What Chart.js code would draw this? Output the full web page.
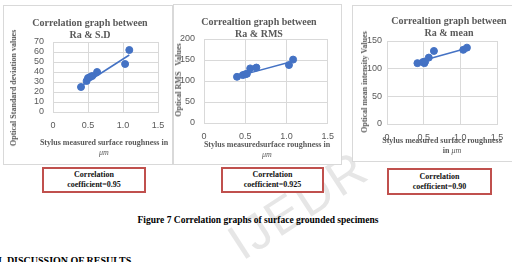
<!DOCTYPE html>
<html><head><meta charset="utf-8">
<script src="https://cdn.jsdelivr.net/npm/chart.js@4/dist/chart.umd.min.js"></script>
<style>
html,body{margin:0;padding:0;background:#fff;width:512px;height:262px;overflow:hidden;position:relative;font-family:"Liberation Serif",serif;}
.box{position:absolute;background:#fff;border:1px solid #d9d9d9;box-sizing:border-box;z-index:1;}
canvas{position:absolute;z-index:2;}
.t{position:absolute;z-index:3;font-weight:bold;color:#595959;white-space:pre;text-align:center;transform:translate(-50%,-50%);}
.title{font-size:10px;line-height:12px;}
.ax{font-size:8px;line-height:10px;}
.yt{transform:translate(-50%,-50%) rotate(-90deg);}
.mu{font-style:italic;font-weight:normal;}
.cc{position:absolute;z-index:3;border:2px solid #c0504d;box-sizing:border-box;background:#fff;display:flex;flex-direction:column;justify-content:center;align-items:center;font-weight:bold;font-size:8px;line-height:10px;color:#111;}
.wm{position:absolute;z-index:0;font-family:"Liberation Sans",sans-serif;font-size:50px;color:#e6e6e6;transform:translate(-50%,-50%) rotate(-33deg);letter-spacing:2px;}
</style></head>
<body>
<div class="wm" style="left:298px;top:205px;">IJEDR</div>

<div class="box" style="left:3px;top:5px;width:170px;height:160px;"></div>
<div class="box" style="left:173px;top:4px;width:169px;height:161px;"></div>
<div class="box" style="left:352px;top:5px;width:162px;height:157px;"></div>

<canvas id="c1" width="170" height="160" style="left:3px;top:5px;"></canvas>
<canvas id="c2" width="169" height="161" style="left:173px;top:4px;"></canvas>
<canvas id="c3" width="162" height="157" style="left:352px;top:5px;"></canvas>

<div class="t title" style="left:90px;top:29px;">Correlation graph between
Ra &amp; S.D</div>
<div class="t title" style="left:259px;top:28px;">Correaltion graph between
Ra &amp; RMS</div>
<div class="t title" style="left:449px;top:27px;">Correaltion graph between
Ra &amp; mean</div>

<div class="t ax yt" style="left:14px;top:88px;">Optical Standard deviation values</div>
<div class="t ax yt" style="left:179px;top:80px;">Optical RMS   Values</div>
<div class="t ax yt" style="left:365px;top:82px;">Optical mean intensity Values</div>

<div class="t ax" style="left:104px;top:148px;">Stylus measured surface roughness in
<span class="mu">μm</span></div>
<div class="t ax" style="left:267px;top:150px;">Stylus measuredsurface roughness in
<span class="mu">μm</span></div>
<div class="t ax" style="left:442px;top:141px;">Stylus measured surface roughness</div>
<div class="t ax" style="left:452px;top:151px;">in <span class="mu">μm</span></div>

<div class="cc" style="left:42px;top:167px;width:104px;height:26px;"><div>Correlation</div><div>coefficient=0.95</div></div>
<div class="cc" style="left:221px;top:167px;width:103px;height:26px;"><div>Correlation</div><div>coefficient=0.925</div></div>
<div class="cc" style="left:387px;top:168px;width:105px;height:27px;"><div>Correlation</div><div>coefficient=0.90</div></div>

<div class="t" style="left:258px;top:220px;font-size:9.5px;color:#000;">Figure 7 Correlation graphs of surface grounded specimens</div>
<div style="position:absolute;z-index:3;left:-2px;top:256px;font-weight:bold;font-size:10px;line-height:10px;color:#000;">I. DISCUSSION OF RESULTS</div>

<script>
// Stylus Ra (µm) vs optical values
const raSD = [0.40, 0.48, 0.50, 0.53, 0.56, 0.63, 1.03, 1.09];
const sdValues = [25, 31, 34, 35, 36, 40, 48, 62];
const trendSD = [[0.40, 26], [1.09, 57]];

const raRMS = [0.40, 0.47, 0.50, 0.52, 0.56, 0.635, 1.03, 1.08];
const rmsValues = [110, 114, 116, 117, 130, 132, 138, 151];
const trendRMS = [[0.40, 111], [1.08, 147]];

const raMean = [0.415, 0.49, 0.51, 0.52, 0.57, 0.64, 1.04, 1.09];
const meanValues = [110, 112, 110, 113, 120, 132, 134, 138];
const trendMean = [[0.415, 112], [1.09, 137]];

const xTickStep = 0.5, xMax = 1.5;

const BLUE = '#4472c4';
const GRID = '#d9d9d9';
const TICK = {color:'#595959', font:{family:'Liberation Sans', size:9}, autoSkip:false};

function makeChart(id, xs, ys, trend, yMax, yStep, pad, yW, yPad) {
  new Chart(document.getElementById(id), {
    type: 'scatter',
    data: {
      datasets: [
        {data: xs.map((x, i) => ({x, y: ys[i]})), backgroundColor: BLUE, borderColor: BLUE, pointRadius: 3.5, pointHoverRadius: 3.5},
        {data: trend.map(p => ({x: p[0], y: p[1]})), showLine: true, borderColor: BLUE, borderWidth: 1.5, pointRadius: 0, fill: false}
      ]
    },
    options: {
      responsive: false, animation: false,
      layout: {padding: pad},
      plugins: {legend: {display: false}, tooltip: {enabled: false}},
      scales: {
        x: {type: 'linear', min: 0, max: xMax,
            ticks: Object.assign({stepSize: xTickStep, padding: 8}, TICK),
            grid: {color: GRID, drawTicks: false}, border: {color: GRID},
            afterFit: s => { s.height = 20; }},
        y: {type: 'linear', min: 0, max: yMax,
            ticks: Object.assign({stepSize: yStep, padding: yPad}, TICK),
            grid: {color: GRID, drawTicks: false}, border: {color: GRID},
            afterFit: s => { s.width = yW; }}
      }
    }
  });
}

makeChart('c1', raSD, sdValues, trendSD, 70, 10, {left:0, top:37, right:15, bottom:33}, 50, 9);
makeChart('c2', raRMS, rmsValues, trendRMS, 200, 50, {left:0, top:35, right:12, bottom:22}, 31, 9);
makeChart('c3', raMean, meanValues, trendMean, 150, 50, {left:0, top:36, right:17, bottom:18}, 35, 5);
</script>
</body></html>
